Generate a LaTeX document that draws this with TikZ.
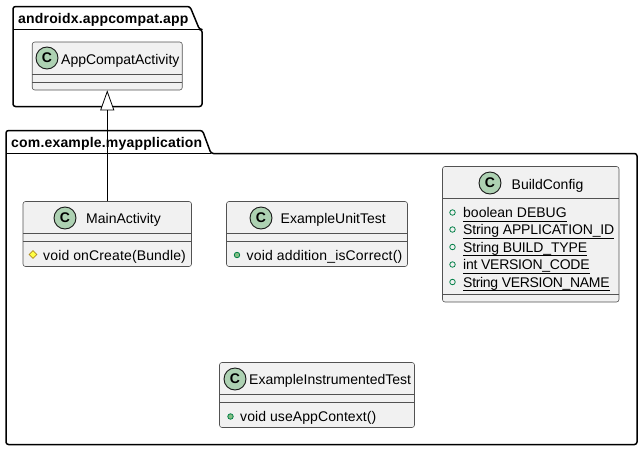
\documentclass[tikz,border=0pt]{standalone}
\usepackage{fontspec}
\setmainfont{Liberation Sans}
\usetikzlibrary{arrows.meta,shapes.geometric}
\definecolor{boxfill}{HTML}{F1F1F1}
\definecolor{boxline}{HTML}{181818}
\definecolor{spotfill}{HTML}{ADD1B2}
\definecolor{publine}{HTML}{038048}
\definecolor{pubfill}{HTML}{84BE84}
\definecolor{protline}{HTML}{B38D22}
\definecolor{protfill}{HTML}{FFFF44}
\newcommand{\ulx}[1]{\underline{\smash{#1}\rule[-2.2pt]{0pt}{0pt}}}
\newcommand{\spaced}[2]{{\addfontfeatures{LetterSpace=#1}#2}}
\tikzset{
  x=1pt,y=-1pt,
  classbox/.style={draw=boxline!75,line width=.6pt,fill=boxfill,rounded corners=2.5pt,inner sep=0pt},
  divider/.style={draw=boxline!75,line width=.6pt},
  spot/.style={circle,draw=boxline,line width=.9pt,fill=spotfill,minimum size=22pt,inner sep=0pt,font=\fontsize{14}{14}\selectfont\bfseries},
  title/.style={anchor=base west,inner sep=0pt,font=\fontsize{14}{16}\selectfont,text=black},
  member/.style={anchor=base west,inner sep=0pt,font=\fontsize{14}{16}\selectfont,text=black},
  pkg/.style={draw=black,line width=1.5pt,rounded corners=2.5pt,line join=round},
  pkgname/.style={anchor=base west,inner sep=0pt,font=\fontsize{14}{16}\selectfont\bfseries},
  pub/.style={circle,draw=publine,fill=pubfill,line width=.8pt,minimum size=5.5pt,inner sep=0pt},
  pubopen/.style={circle,draw=publine,fill=none,line width=.8pt,minimum size=5.5pt,inner sep=0pt},
  prot/.style={diamond,draw=protline,fill=protfill,line width=.8pt,minimum size=8pt,inner sep=0pt},
  inherit/.style={draw=black,line width=.8pt,-{Triangle[open,fill=white,length=20pt,width=14pt]}},
}
\begin{document}
\begin{tikzpicture}
\useasboundingbox (0,0) rectangle (642,450);
% packages
\draw[pkg] (13,29) -- (13,6.5) -- (190,6.5) -- (199.5,29.5) -- (202,29.5) -- (202,106.5) -- (13,106.5) -- cycle;
\draw[black,line width=1.2pt] (13,29.5) -- (199.5,29.5);
\node[pkgname] (pkgA) at (18,23) {\spaced{1.3}{androidx.appcompat.app}};
\draw[pkg] (6,153) -- (6,130.5) -- (202.5,130.5) -- (211,153.5) -- (637,153.5) -- (637,444.5) -- (6,444.5) -- cycle;
\draw[black,line width=1.2pt] (6,153.5) -- (211,153.5);
\node[pkgname] (pkgB) at (11,147) {\spaced{1.3}{com.example.myapplication}};
% AppCompatActivity
\node[classbox,minimum width=150pt,minimum height=48pt] (app) at (107.25,66) {};
\draw[divider] (32,74.5) -- (182,74.5) (32,82.5) -- (182,82.5);
\node[spot] (appC) at (47,58) {C};
\node[title] (appT) at (61,64) {AppCompatActivity};
% MainActivity
\node[classbox,minimum width=168.5pt,minimum height=65pt] (main) at (107.25,234) {};
\draw[divider] (23,233.5) -- (191.5,233.5) (23,241.5) -- (191.5,241.5);
\node[spot] (mainC) at (65,218) {C};
\node[title] (mainT) at (86,223) {MainActivity};
\node[prot] (mainP) at (33,254.5) {};
\node[member] (mainM) at (43,260) {\spaced{1}{void onCreate(Bundle)}};
% ExampleUnitTest
\node[classbox,minimum width=181pt,minimum height=65pt] (unit) at (317,234) {};
\draw[divider] (226.5,233.5) -- (407.5,233.5) (226.5,241.5) -- (407.5,241.5);
\node[spot] (unitC) at (261,218) {C};
\node[title] (unitT) at (280.5,223) {ExampleUnitTest};
\node[pub] (unitP) at (237,255) {};
\node[member] (unitM) at (246.5,260) {\spaced{1.2}{void addition\_isCorrect()}};
% BuildConfig
\node[classbox,minimum width=176.5pt,minimum height=135.5pt] (build) at (530.75,234.25) {};
\draw[divider] (442.5,198.5) -- (619,198.5) (442.5,294.5) -- (619,294.5);
\node[spot] (buildC) at (490,183) {C};
\node[title] (buildT) at (511.5,189) {BuildConfig};
\foreach \n/\y/\s/\t in {a/212.5/0/boolean DEBUG,b/229.5/-1/String APPLICATION\_ID,c/247/-1/String BUILD\_TYPE,d/264.5/-1.8/int VERSION\_CODE,e/282/-2.2/String VERSION\_NAME}{
  \node[pubopen] (bp\n) at (452.5,\y) {};
  \node[member] (bm\n) at (463,\y+5) {\ulx{\spaced{\s}{\t}}};
}
% ExampleInstrumentedTest
\node[classbox,minimum width=195pt,minimum height=65pt] (inst) at (317,395) {};
\draw[divider] (219.5,394.5) -- (414.5,394.5) (219.5,402.5) -- (414.5,402.5);
\node[spot] (instC) at (235,379) {C};
\node[title] (instT) at (249,384) {ExampleInstrumentedTest};
\node[pub] (instP) at (230.5,416.5) {};
\node[member] (instM) at (240,421) {\spaced{.6}{void useAppContext()}};
% inheritance
\draw[inherit] (main) -- (app);
\end{tikzpicture}
\end{document}
